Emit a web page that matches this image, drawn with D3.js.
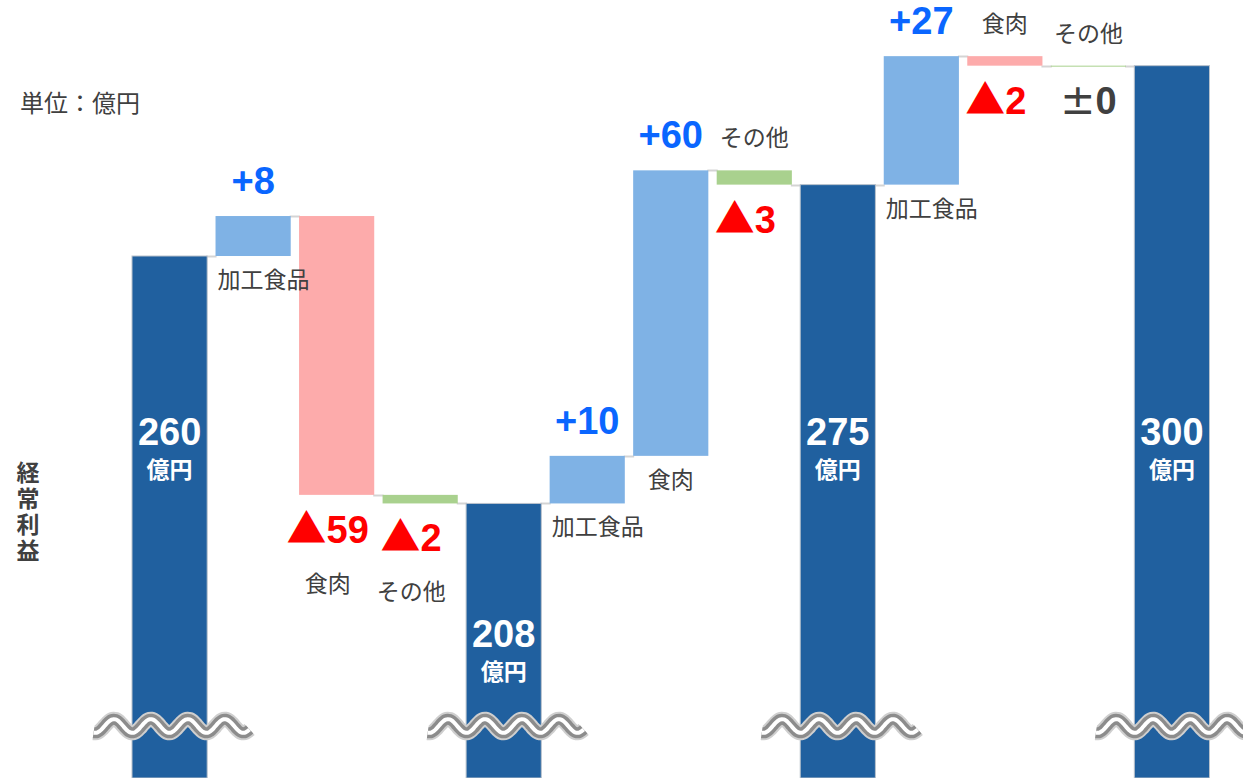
<!DOCTYPE html>
<html>
<head>
<meta charset="utf-8">
<script src="https://cdn.jsdelivr.net/npm/d3@7"></script>
<style>
  html, body { margin: 0; padding: 0; background: #fff; }
  svg { display: block; }
  .jp { font-family: "Noto Sans CJK JP", "Noto Sans", sans-serif; }
  .num { font-family: "Liberation Sans", Arial, "DejaVu Sans", sans-serif; font-weight: bold; }
</style>
</head>
<body>
<div id="chart"></div>
<script>
// data (億円)
var totals = [260, 208, 275, 300];
var categories = ["加工食品", "食肉", "その他"];
var changes = [
    [8.4, -58.6, -1.8],
    [10, 60, -3],
    [27, -2, 0]
];
var unitText = "単位：億円";
var axisTitle = "経常利益";
var totalUnit = "億円";

var width = 1243,
    height = 778,
    breakY = 726;

var colTotal = "#20609f",
    colUp = "#7fb2e5",
    colDown = "#fdabab",
    colOther = "#a9d18e";

// build the waterfall steps
var steps = [];
totals.forEach(function (t, g) {
    steps.push({type: "total", group: g, value: t, end: t});
    if (g < changes.length) {
        var running = t;
        changes[g].forEach(function (c, k) {
            steps.push({type: "delta", group: g, cat: categories[k], value: c, start: running, end: running + c});
            running += c;
        });
    }
});
steps.forEach(function (d, i) { d.id = i; });

var x = d3.scaleBand()
    .domain(steps.map(function (d) { return d.id; }))
    .range([132, 1209.5])
    .paddingInner(0.1)
    .paddingOuter(0);

var y = d3.scaleLinear()
    .domain([150.3, 313.8])
    .range([height, 0]);

var bw = x.bandwidth();

var svg = d3.select("#chart").append("svg")
    .attr("width", width)
    .attr("height", height);

// connectors between bars
var links = svg.append("g");
steps.forEach(function (d, i) {
    if (i === steps.length - 1) return;
    var ly = Math.round(y(d.end)) + 0.5;
    links.append("line")
        .attr("x1", x(d.id) + bw - 1)
        .attr("x2", x(steps[i + 1].id) + 1)
        .attr("y1", ly)
        .attr("y2", ly)
        .attr("stroke", "#d4d4d4")
        .attr("stroke-width", 2);
});

// bars
svg.append("g").selectAll("rect")
    .data(steps)
    .enter().append("rect")
    .attr("x", function (d) { return x(d.id); })
    .attr("width", bw)
    .attr("y", function (d) {
        if (d.type === "total") return y(d.value);
        return Math.min(y(d.start), y(d.end));
    })
    .attr("height", function (d) {
        if (d.type === "total") return height - y(d.value);
        return Math.max(1, Math.abs(y(d.start) - y(d.end)));
    })
    .attr("fill", function (d) {
        if (d.type === "total") return colTotal;
        if (d.cat === "その他") return colOther;
        return d.value >= 0 ? colUp : colDown;
    })
    .attr("stroke", function (d) { return d.type === "total" ? "#b9c2cc" : "none"; })
    .attr("stroke-width", 1);

// axis break waves on the total bars
var wave = d3.line().curve(d3.curveBasis);
steps.filter(function (d) { return d.type === "total"; }).forEach(function (d) {
    var cx = x(d.id) + bw / 2;
    var pts = [];
    for (var px = -76; px <= 80; px += 2) {
        pts.push([cx + px, breakY - 7 * Math.sin((px + 28) / 37 * 2 * Math.PI)]);
    }
    var gw = svg.append("g");
    gw.append("path").attr("d", wave(pts)).attr("fill", "none")
        .attr("stroke", "#cfcfcf").attr("stroke-width", 15);
    gw.append("path").attr("d", wave(pts)).attr("fill", "none")
        .attr("stroke", "#8c8c8c").attr("stroke-width", 11);
    gw.append("path").attr("d", wave(pts)).attr("fill", "none")
        .attr("stroke", "#ffffff").attr("stroke-width", 4);
});

// total labels inside bars
var tl = svg.append("g").selectAll("g")
    .data(steps.filter(function (d) { return d.type === "total"; }))
    .enter().append("g");
tl.append("text")
    .attr("class", "num")
    .attr("x", function (d) { return x(d.id) + bw / 2; })
    .attr("y", function (d) { return Math.max(y(d.value) + 144, 445); })
    .attr("text-anchor", "middle")
    .attr("fill", "#fff")
    .style("font-size", "38px")
    .text(function (d) { return d.value; });
tl.append("text")
    .attr("class", "jp")
    .attr("x", function (d) { return x(d.id) + bw / 2; })
    .attr("y", function (d) { return Math.max(y(d.value) + 144, 445) + 33; })
    .attr("text-anchor", "middle")
    .attr("fill", "#fff")
    .style("font-size", "23px")
    .style("font-weight", "bold")
    .text(totalUnit);

// value and category labels for the changes
function sign(v) {
    var r = Math.round(Math.abs(v));
    if (r === 0) return "±";
    return v > 0 ? "+" : "▲";
}
function valColor(v) {
    if (Math.round(v) === 0) return "#404040";
    return v > 0 ? "#0a66ff" : "#ff0000";
}

var deltas = steps.filter(function (d) { return d.type === "delta"; });
deltas.forEach(function (d) {
    var cx = x(d.id) + bw / 2;
    var top = Math.min(y(d.start), y(d.end));
    var bot = Math.max(y(d.start), y(d.end));
    var vy, cy;
    if (d.value > 0) {
        vy = top - 22;
        cy = bot + 32;
    } else {
        vy = bot + 48;
        // first group: category under the value, later groups: above the bar
        cy = d.group === 0 ? vy + 49 : top - 24;
    }
    var vt = svg.append("text")
        .attr("class", "num")
        .attr("x", cx - (d.value < 0 ? 9 : 0))
        .attr("y", vy)
        .attr("text-anchor", "middle")
        .attr("fill", valColor(d.value))
        .style("font-size", "38px");
    var s = sign(d.value);
    var ts = vt.append("tspan").text(s);
    if (s === "▲") {
        // the reference uses a large full-width triangle
        ts.style("font-family", "'Noto Sans CJK JP', sans-serif")
          .style("font-size", "40px");
    } else if (s === "±") {
        ts.style("font-family", "'DejaVu Sans', sans-serif")
          .style("font-weight", "normal")
          .style("font-size", "42px");
    }
    vt.append("tspan").text(Math.round(Math.abs(d.value)));

    var ct = svg.append("text")
        .attr("class", "jp")
        .attr("y", cy)
        .attr("fill", "#404040")
        .style("font-size", "23px")
        .text(d.cat);
    var w = ct.node().getComputedTextLength();
    if (d.value < 0 && d.group === 0) {
        var bb = vt.node().getBBox();
        ct.attr("x", bb.x + bb.width / 2 - w / 2);
    } else {
        ct.attr("x", Math.max(cx - w / 2, x(d.id) + 2));
    }
});

// unit note
svg.append("text")
    .attr("class", "jp")
    .attr("x", 20)
    .attr("y", 112)
    .attr("fill", "#404040")
    .style("font-size", "24px")
    .text(unitText);

// vertical axis title
svg.append("text")
    .attr("class", "jp")
    .attr("x", 28)
    .attr("y", 461)
    .attr("fill", "#404040")
    .style("writing-mode", "vertical-rl")
    .style("letter-spacing", "3px")
    .style("font-size", "23px")
    .style("font-weight", "bold")
    .text(axisTitle);
</script>
</body>
</html>
